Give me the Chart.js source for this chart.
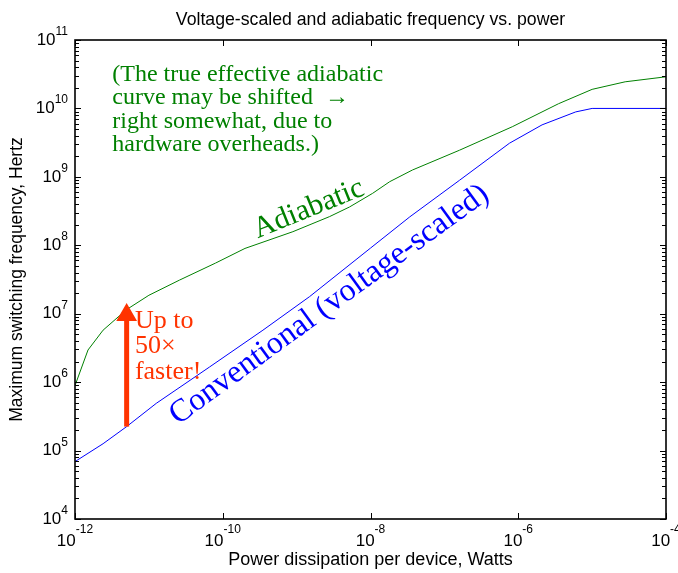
<!DOCTYPE html>
<html lang="en">
<head>
<meta charset="UTF-8">
<title>Voltage-scaled and adiabatic frequency vs. power</title>
<script src="https://cdn.jsdelivr.net/npm/chart.js"></script>
<style>
    body { margin: 0; background: #ffffff; }
    canvas { display: block; }
</style>
</head>
<body>
<canvas id="grafico" width="678" height="573"></canvas>
<script>
    // adiabatic curve (green)
    const adiabaticPower = [1e-12, 1.5e-12, 2.4e-12, 5e-12, 1e-11, 2.6e-11, 8e-11, 2.0e-10, 8.9e-10, 2.8e-9,
                            5.2e-9, 1.07e-8, 1.82e-8, 3.7e-8, 1.6e-7, 8.3e-7, 3.5e-6, 1e-5, 2.8e-5, 1e-4];
    const adiabaticFreq = [8.9e5, 2.95e6, 5.75e6, 1.15e7, 1.86e7, 3.1e7, 5.5e7, 9.0e7, 1.58e8, 2.63e8,
                           3.63e8, 5.75e8, 8.5e8, 1.26e9, 2.45e9, 5.4e9, 1.17e10, 1.9e10, 2.45e10, 2.9e10];
    // conventional voltage-scaled curve (blue)
    const conventionalPower = [1e-12, 2.4e-12, 5e-12, 1.26e-11, 6.6e-11, 3.5e-10, 1.5e-9, 1e-8,
                               3.4e-8, 1.6e-7, 7.6e-7, 2.1e-6, 6e-6, 1e-5, 1e-4];
    const conventionalFreq = [6.9e4, 1.26e5, 2.24e5, 4.9e5, 1.66e6, 5.75e6, 1.78e7, 9.1e7,
                              2.6e8, 8.9e8, 3.1e9, 5.75e9, 8.9e9, 1e10, 1e10];
    // the "up to 50x" arrow
    const arrowPower = [5e-12, 5e-12];
    const arrowFreq = [2.24e5, 9.6e6];

    const xTickExps = [-12, -10, -8, -6, -4];
    const yTickExps = [4, 5, 6, 7, 8, 9, 10, 11];

    const sans = '"Liberation Sans", Arial, sans-serif';
    const serif = '"Liberation Serif", "Times New Roman", serif';

    function pares(xs, ys) {
        return xs.map((x, i) => ({ x: x, y: ys[i] }));
    }

    function linea(ctx, x1, y1, x2, y2) {
        ctx.beginPath();
        ctx.moveTo(x1, y1);
        ctx.lineTo(x2, y2);
        ctx.stroke();
    }

    const ejes = {
        id: 'ejes',
        afterDraw(chart) {
            const ctx = chart.ctx;
            const a = chart.chartArea;
            const sx = chart.scales.x;
            const sy = chart.scales.y;
            ctx.save();

            // box + tick marks (pointing inward, on all four sides)
            ctx.strokeStyle = '#000000';
            ctx.lineWidth = 1;
            xTickExps.forEach(e => {
                const px = Math.round(sx.getPixelForValue(Math.pow(10, e))) + 0.5;
                linea(ctx, px, a.bottom, px, a.bottom - 6);
                linea(ctx, px, a.top, px, a.top + 6);
            });
            for (let e = yTickExps[0]; e <= yTickExps[yTickExps.length - 1]; e++) {
                for (let m = 1; m <= 9; m++) {
                    const v = m * Math.pow(10, e);
                    if (v > sy.max) break;
                    const py = Math.round(sy.getPixelForValue(v)) + 0.5;
                    const len = m === 1 ? 6 : 4;
                    linea(ctx, a.left, py, a.left + len, py);
                    linea(ctx, a.right, py, a.right - len, py);
                }
            }
            ctx.lineWidth = 1.6;
            ctx.strokeRect(a.left, a.top, a.right - a.left, a.bottom - a.top);

            // tick labels 10^n
            ctx.fillStyle = '#000000';
            yTickExps.forEach(e => {
                const py = sy.getPixelForValue(Math.pow(10, e));
                ctx.font = '17px ' + sans;
                const wb = ctx.measureText('10').width;
                ctx.font = '12px ' + sans;
                const we = ctx.measureText(String(e)).width;
                const right = a.left - 7;
                ctx.font = '17px ' + sans;
                ctx.textAlign = 'left';
                ctx.textBaseline = 'middle';
                ctx.fillText('10', right - we - wb, py);
                ctx.font = '12px ' + sans;
                ctx.textBaseline = 'alphabetic';
                ctx.fillText(String(e), right - we, py - 5);
            });
            xTickExps.forEach(e => {
                const px = sx.getPixelForValue(Math.pow(10, e));
                ctx.font = '17px ' + sans;
                const wb = ctx.measureText('10').width;
                ctx.font = '12px ' + sans;
                const we = ctx.measureText(String(e)).width;
                const left = px - (wb + we) / 2;
                ctx.font = '17px ' + sans;
                ctx.textAlign = 'left';
                ctx.textBaseline = 'middle';
                ctx.fillText('10', left, a.bottom + 22);
                ctx.font = '12px ' + sans;
                ctx.textBaseline = 'alphabetic';
                ctx.fillText(String(e), left + wb, a.bottom + 14);
            });

            // titles
            const cx = (a.left + a.right) / 2;
            ctx.textAlign = 'center';
            ctx.textBaseline = 'alphabetic';
            ctx.font = '17.7px ' + sans;
            ctx.fillText('Voltage-scaled and adiabatic frequency vs. power', cx, 25);
            ctx.font = '18px ' + sans;
            ctx.fillText('Power dissipation per device, Watts', cx, 565);
            ctx.save();
            ctx.translate(22, (a.top + a.bottom) / 2);
            ctx.rotate(-Math.PI / 2);
            ctx.font = '17.5px ' + sans;
            ctx.fillText('Maximum switching frequency, Hertz', 0, 0);
            ctx.restore();

            // annotations
            ctx.textAlign = 'left';
            ctx.textBaseline = 'alphabetic';
            ctx.fillStyle = '#008000';
            ctx.font = '24px ' + serif;
            const nx = sx.getPixelForValue(3.2e-12);
            const ny = sy.getPixelForValue(2.5e10);
            ['(The true effective adiabatic', 'curve may be shifted  \u2192', 'right somewhat, due to', 'hardware overheads.)']
                .forEach((t, i) => ctx.fillText(t, nx, ny + i * 23.3));

            ctx.save();
            ctx.translate(sx.getPixelForValue(2.97e-10), sy.getPixelForValue(1.27e8));
            ctx.rotate(-22 * Math.PI / 180);
            ctx.font = '30px ' + serif;
            ctx.fillText('Adiabatic', 0, 0);
            ctx.restore();

            ctx.save();
            ctx.translate(sx.getPixelForValue(2.47e-11), sy.getPixelForValue(2.35e5));
            ctx.rotate(-36 * Math.PI / 180);
            ctx.font = '32px ' + serif;
            ctx.fillStyle = '#0000ff';
            ctx.fillText('Conventional (voltage-scaled)', 0, 0);
            ctx.restore();

            ctx.fillStyle = '#ff3300';
            ctx.font = '26px ' + serif;
            const ux = sx.getPixelForValue(6.47e-12);
            const uy = sy.getPixelForValue(6.2e6);
            ['Up to', '50\u00d7', 'faster!'].forEach((t, i) => ctx.fillText(t, ux, uy + i * 25.5));

            ctx.restore();
        }
    };

    const ctx = document.getElementById('grafico').getContext('2d');
    new Chart(ctx, {
        type: 'line',
        data: {
            datasets: [
                {
                    label: 'Up to 50x',
                    data: pares(arrowPower, arrowFreq),
                    borderColor: '#ff3300',
                    backgroundColor: '#ff3300',
                    borderWidth: 5,
                    borderCapStyle: 'butt',
                    pointStyle: 'triangle',
                    pointRadius: [0, 7],
                    pointBackgroundColor: '#ff3300',
                    pointBorderColor: '#ff3300',
                    fill: false
                },
                {
                    label: 'Adiabatic',
                    data: pares(adiabaticPower, adiabaticFreq),
                    borderColor: '#008000',
                    borderWidth: 1,
                    pointRadius: 0,
                    fill: false,
                    tension: 0
                },
                {
                    label: 'Conventional',
                    data: pares(conventionalPower, conventionalFreq),
                    borderColor: '#0000ff',
                    borderWidth: 1,
                    pointRadius: 0,
                    fill: false,
                    tension: 0
                }
            ]
        },
        options: {
            responsive: false,
            animation: false,
            layout: { padding: { left: 75, right: 8, top: 40, bottom: 54 } },
            plugins: {
                legend: { display: false },
                tooltip: { enabled: false },
                title: { display: false }
            },
            scales: {
                x: { type: 'logarithmic', min: 1e-12, max: 1e-4, display: false },
                y: { type: 'logarithmic', min: 1e4, max: 1e11, display: false }
            }
        },
        plugins: [ejes]
    });
</script>
</body>
</html>
